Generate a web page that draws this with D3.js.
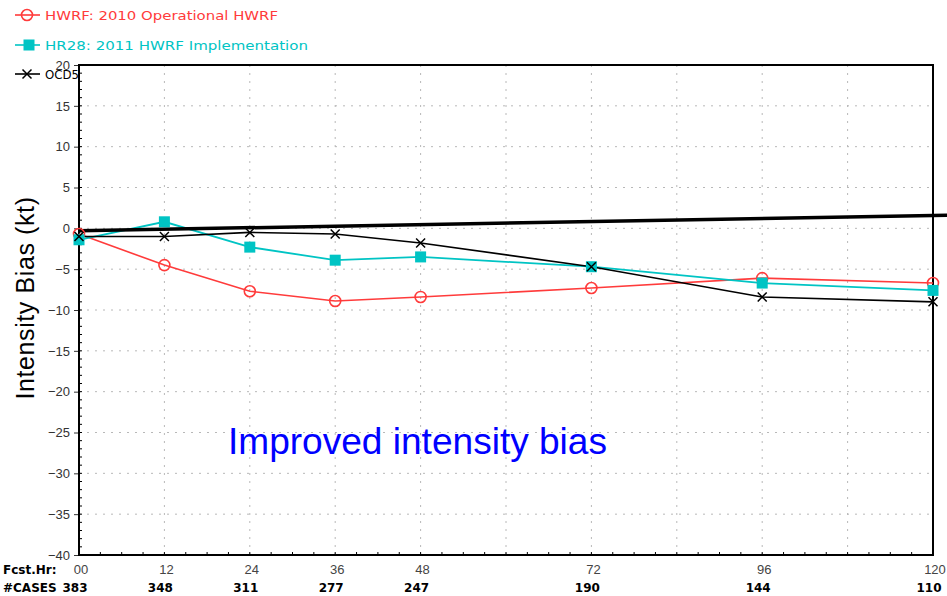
<!DOCTYPE html>
<html><head><meta charset="utf-8">
<script src="https://cdn.jsdelivr.net/npm/d3@7"></script>
<style>body{margin:0;background:#fff}svg{display:block}</style>
</head><body><div id="chart"></div>
<script>
const hours = [0, 12, 24, 36, 48, 72, 96, 120];
const hourLabels = ["00", "12", "24", "36", "48", "72", "96", "120"];
const cases = [383, 348, 311, 277, 247, 190, 144, 110];
const hwrf = [-0.7, -4.5, -7.7, -8.9, -8.4, -7.3, -6.1, -6.7];
const hr28 = [-1.4, 0.8, -2.3, -3.9, -3.5, -4.7, -6.7, -7.6];
const ocd5 = [-1.0, -1.0, -0.5, -0.7, -1.8, -4.7, -8.4, -9.0];
const refLineHours = [0, 122];
const refLineVals = [-0.3, 1.6];
const yTicks = [20, 15, 10, 5, 0, -5, -10, -15, -20, -25, -30, -35, -40];
const gridHours = [12, 24, 36, 48, 60, 72, 84, 96, 108];
const legendNames = ["HWRF: 2010 Operational HWRF", "HR28: 2011 HWRF Implementation", "OCD5"];

const W = 947, H = 596;
const RED = "#ff3b3b", CYAN = "#00c4c4", BLACK = "#000";
const svg = d3.select("#chart").append("svg").attr("width", W).attr("height", H);
const x = d3.scaleLinear().domain([0, 120]).range([79, 933]);
const y = d3.scaleLinear().domain([-40, 20]).range([555, 65]);
const thin = "'Liberation Sans', Arial, sans-serif";

// grid
svg.append("g").selectAll("line").data(yTicks.filter(d => d > -40 && d < 20)).join("line")
  .attr("x1", x(0)).attr("x2", x(120)).attr("y1", d => y(d)).attr("y2", d => y(d))
  .attr("stroke", "#b8b8b8").attr("stroke-width", 1).attr("stroke-dasharray", "2,6");
svg.append("g").selectAll("line").data(gridHours).join("line")
  .attr("x1", d => x(d)).attr("x2", d => x(d)).attr("y1", y(20)).attr("y2", y(-40))
  .attr("stroke", "#b8b8b8").attr("stroke-width", 1).attr("stroke-dasharray", "2,6");

// axes
const yAxis = d3.axisLeft(y).tickValues(yTicks).tickSize(5).tickFormat(d => d < 0 ? "\u2212" + Math.abs(d) : d);
const gy = svg.append("g").attr("transform", `translate(${x(0)},0)`).call(yAxis);
gy.select(".domain").remove();
gy.selectAll("text").attr("font-family", thin).attr("font-size", 13).attr("fill", "#333").attr("dx", -1);
gy.selectAll("line").attr("stroke", "#333");

// frame
svg.append("rect").attr("x", x(0)).attr("y", y(20)).attr("width", x(120) - x(0)).attr("height", y(-40) - y(20))
  .attr("fill", "none").attr("stroke", "#000").attr("stroke-width", 2);
const minorY = d3.range(-40, 20.01, 1);
svg.append("g").selectAll("line").data(minorY).join("line")
  .attr("x1", x(0)).attr("x2", x(0) + 3).attr("y1", d => y(d)).attr("y2", d => y(d)).attr("stroke", "#000");
const minorX = d3.range(0, 120.01, 3);
svg.append("g").selectAll("line").data(minorX).join("line")
  .attr("x1", d => x(d)).attr("x2", d => x(d)).attr("y1", y(-40)).attr("y2", y(-40) - 3).attr("stroke", "#000");

// series
const line = d3.line().x(d => x(d[0])).y(d => y(d[1]));
function series(vals, color, w) {
  svg.append("path").datum(hours.map((h, i) => [h, vals[i]])).attr("d", line)
    .attr("fill", "none").attr("stroke", color).attr("stroke-width", w);
}
series(hwrf, RED, 1.6);
series(hr28, CYAN, 1.8);
series(ocd5, BLACK, 1.6);
svg.append("path").datum(refLineHours.map((h, i) => [h, refLineVals[i]])).attr("d", line)
  .attr("fill", "none").attr("stroke", "#000").attr("stroke-width", 3.5);

function circle(g, cx, cy) {
  g.append("circle").attr("cx", cx).attr("cy", cy).attr("r", 5.5).attr("fill", "none").attr("stroke", RED).attr("stroke-width", 1.6);
}
function square(g, cx, cy) {
  g.append("rect").attr("x", cx - 5.5).attr("y", cy - 5.5).attr("width", 11).attr("height", 11).attr("fill", CYAN);
}
function cross(g, cx, cy) {
  g.append("path").attr("d", `M${cx-4.5},${cy-4.5}L${cx+4.5},${cy+4.5}M${cx-4.5},${cy+4.5}L${cx+4.5},${cy-4.5}`)
    .attr("stroke", "#000").attr("stroke-width", 1.5);
}
const mk = svg.append("g");
hours.forEach((h, i) => circle(mk, x(h), y(hwrf[i])));
hours.forEach((h, i) => square(mk, x(h), y(hr28[i])));
hours.forEach((h, i) => cross(mk, x(h), y(ocd5[i])));

// legend
const legColors = [RED, CYAN, BLACK];
const legY = [15, 45, 74];
const legLen = [233, 263, 34];
legendNames.forEach((name, i) => {
  const g = svg.append("g");
  g.append("line").attr("x1", 15).attr("x2", 40).attr("y1", legY[i]).attr("y2", legY[i]).attr("stroke", legColors[i]).attr("stroke-width", 1.6);
  if (i === 0) circle(g, 27, legY[i]);
  if (i === 1) square(g, 29, legY[i]);
  if (i === 2) cross(g, 27, legY[i]);
  g.append("text").attr("x", 45).attr("y", legY[i] + 5).text(name)
    .attr("font-family", "'DejaVu Sans', sans-serif").attr("font-size", 12.5)
    .attr("fill", legColors[i]).attr("textLength", legLen[i]).attr("lengthAdjust", "spacingAndGlyphs");
});

// y label
svg.append("text").attr("transform", "translate(34,298) rotate(-90)").attr("text-anchor", "middle")
  .attr("font-family", "'Liberation Sans', Arial, sans-serif").attr("font-size", 25).attr("fill", "#000")
  .attr("letter-spacing", 0.6).text("Intensity Bias (kt)");

// bottom labels
svg.append("text").attr("x", 3).attr("y", 574).text("Fcst.Hr:")
  .attr("font-family", "'DejaVu Sans', sans-serif").attr("font-weight", "bold").attr("font-size", 12);
svg.append("text").attr("x", 3).attr("y", 592).text("#CASES")
  .attr("font-family", "'DejaVu Sans', sans-serif").attr("font-weight", "bold").attr("font-size", 12);
svg.append("g").selectAll("text").data(hours).join("text")
  .attr("x", d => x(d) + 2).attr("y", 574).attr("text-anchor", "middle")
  .attr("font-family", thin).attr("font-size", 13).attr("fill", "#444")
  .text((d, i) => hourLabels[i]);
svg.append("g").selectAll("text").data(hours).join("text")
  .attr("x", d => x(d) - 4).attr("y", 592).attr("text-anchor", "middle")
  .attr("font-family", "'DejaVu Sans', sans-serif").attr("font-weight", "bold").attr("font-size", 12)
  .text((d, i) => cases[i]);

// annotation
svg.append("text").attr("x", 228).attr("y", 454).text("Improved intensity bias")
  .attr("font-family", "'Liberation Sans', Arial, sans-serif").attr("font-size", 37).attr("fill", "#0000ff")
  .attr("textLength", 379).attr("lengthAdjust", "spacingAndGlyphs");
</script></body></html>
